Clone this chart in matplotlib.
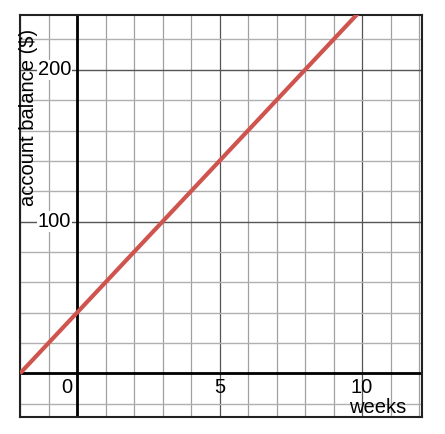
import numpy as np
import matplotlib
matplotlib.use('Agg')
import matplotlib.pyplot as plt

plt.rcParams['font.family'] = ['Liberation Sans', 'DejaVu Sans']

# data: balance = start + rate * weeks
weeks = [-2, 10.5]
balance = [0, 250]
x_ticks = [0, 5, 10]
y_ticks = [100, 200]

fig = plt.figure(figsize=(4.45, 4.34), dpi=100)
ax = fig.add_axes([0.045, 0.039, 0.903, 0.926])
ax.set_xlim(-2, 12.1)
ax.set_ylim(-28.8, 236)

# grid
for gx in range(-2, 13):
    c = '#555555' if gx % 5 == 0 else '#a0a0a0'
    ax.axvline(gx, color=c, lw=0.9, zorder=1)
for gy in range(-20, 240, 20):
    c = '#555555' if gy % 100 == 0 else '#b0b0b0'
    ax.axhline(gy, color=c, lw=1.0, zorder=1)

ax.axvline(0, color='black', lw=2, zorder=2)
ax.axhline(0, color='black', lw=2, zorder=2)

ax.plot(weeks, balance, color='#d0544e', lw=3, zorder=3, solid_capstyle='butt')

for t in x_ticks:
    dx = -0.35 if t == 0 else 0
    ax.text(t + dx, -9, str(t), ha='center', va='center', fontsize=14.5)
for t in y_ticks:
    ax.text(-0.2, t, str(t), ha='right', va='center', fontsize=14.5,
            bbox=dict(facecolor='white', edgecolor='none', pad=0.5))

ax.text(9.55, -22.5, 'weeks', ha='left', va='center', fontsize=14.5)
ax.text(-1.7, 227, 'account balance ($)', rotation=90, ha='center', va='top', fontsize=14.5)

ax.set_xticks([])
ax.set_yticks([])
for s in ax.spines.values():
    s.set_linewidth(1.5)
    s.set_color('#222222')

fig.savefig('out.png', dpi=100)
